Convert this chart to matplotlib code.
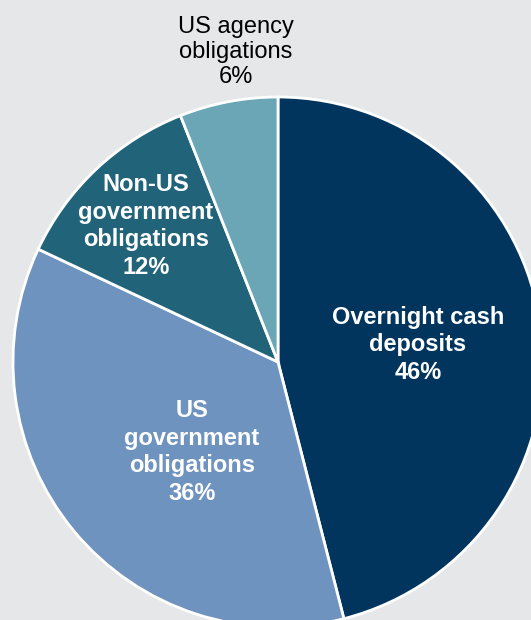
import matplotlib

matplotlib.use("Agg")
import matplotlib.pyplot as plt

labels = ["Overnight cash\ndeposits", "US\ngovernment\nobligations",
          "Non-US\ngovernment\nobligations", "US agency\nobligations"]
shares = [46, 36, 12, 6]
colors = ["#01355e", "#6f93bf", "#21647a", "#6ba6b7"]
BG = "#e6e7e8"

W, H = 531, 620
fig = plt.figure(figsize=(W / 100, H / 100), dpi=100, facecolor=BG)
ax = fig.add_axes([0, 0, 1, 1])
ax.set_facecolor(BG)

cx, cy, r = 278, H - 362, 265
ax.pie(shares, colors=colors, startangle=90, counterclock=False,
       center=(cx, cy), radius=r, frame=True,
       wedgeprops=dict(edgecolor="white", linewidth=2))
ax.set_xlim(0, W)
ax.set_ylim(0, H)
ax.set_aspect("equal")
ax.axis("off")

font = ["Liberation Sans", "DejaVu Sans"]
# label positions in pixel coordinates (x, y from top)
pos = [(418, 345), (192, 452), (146, 226), (236, 52)]
for i, (lab, s) in enumerate(zip(labels, shares)):
    x, y = pos[i]
    inside = i < 3
    ax.text(x, H - y, f"{lab}\n{s}%", ha="center", va="center",
            fontsize=17, family=font,
            linespacing=1.25 if inside else 1.19,
            fontweight="bold" if inside else "normal",
            color="white" if inside else "black")

fig.savefig("out.png", dpi=100, facecolor=BG)
